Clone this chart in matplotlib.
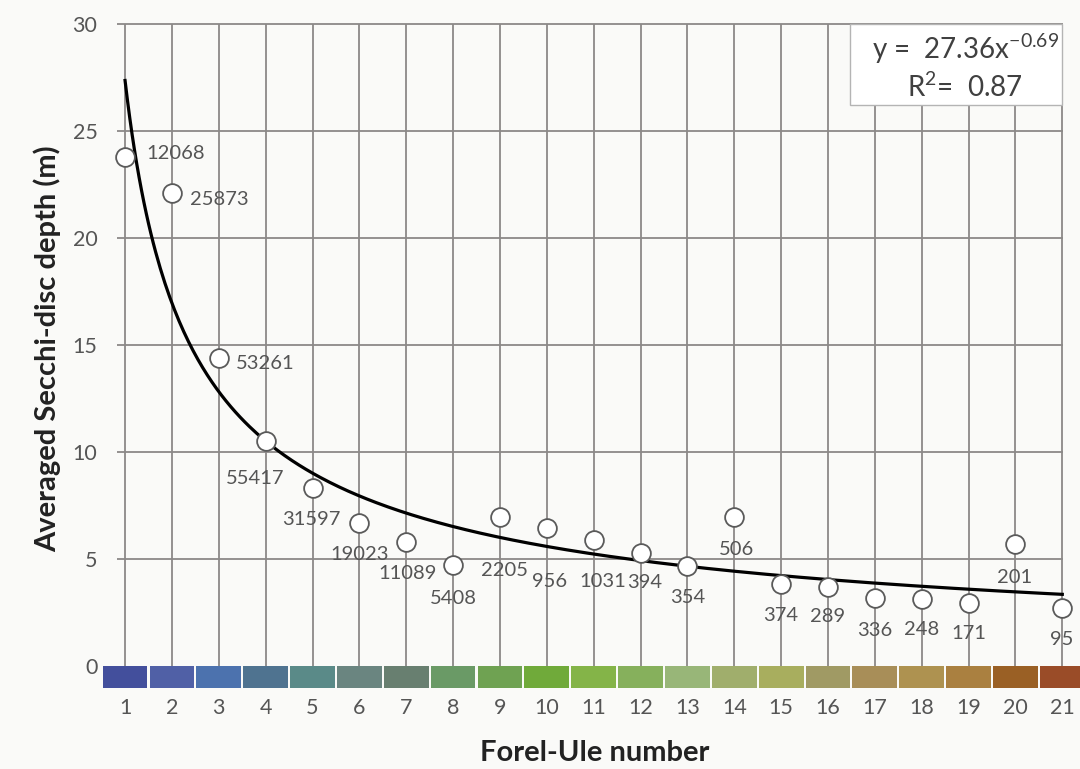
import numpy as np
import matplotlib
matplotlib.use("Agg")
import matplotlib.pyplot as plt
from matplotlib.patches import Rectangle

plt.rcParams['font.family'] = ['Lato', 'DejaVu Sans']

# ---- data ----
forel_ule = list(range(1, 22))
secchi_depth = [23.8, 22.1, 14.4, 10.5, 8.3, 6.7, 5.8, 4.7, 6.95, 6.45, 5.9,
                5.3, 4.65, 6.95, 3.85, 3.7, 3.2, 3.15, 2.95, 5.7, 2.7]
counts = ["12068", "25873", "53261", "55417", "31597", "19023", "11089", "5408",
          "2205", "956", "1031", "394", "354", "506", "374", "289", "336",
          "248", "171", "201", "95"]
fu_colors = ["#434f9c", "#5060a6", "#4c72ae", "#4f7390", "#5a8a88", "#6a8580",
             "#687f70", "#6a9a66", "#6fa252", "#70aa3a", "#84b448", "#86b05c",
             "#98b678", "#a0ae6c", "#a8ae5e", "#a09a64", "#a88e58", "#ae9250",
             "#aa8040", "#9a6025", "#9a4c28"]
yticks = [0, 5, 10, 15, 20, 25, 30]
fit_a, fit_b = 27.36, -0.69
r_squared = 0.87

# label offsets in pixels (dx, dy)
label_offsets = [(51, 3), (47, -6), (46, -6), (-11, -37), (-1, -31), (0, -32),
                 (1, -32), (0, -33), (5, -53), (3, -54), (9, -42), (4, -30),
                 (0, -31), (2, -32), (0, -32), (0, -30), (0, -33), (0, -31),
                 (0, -31), (-1, -33), (-1, -31)]

bg = '#fafaf8'
fig = plt.figure(figsize=(10.8, 7.69), dpi=100, facecolor=bg)
ax = fig.add_axes([0.0941, 0.1053, 0.906, 0.8774])
ax.set_facecolor('none')
ax.set_xlim(0.5, 21.38)
ax.set_ylim(-1.03, 30.5)

grid_c = '#8c8888'
# horizontal grid
for yv in yticks[1:]:
    ax.plot([0.83, 21.02], [yv, yv], color=grid_c, lw=1.3, zorder=1, solid_capstyle='butt')
# vertical grid
for xv in forel_ule:
    ax.plot([xv, xv], [0, 30], color=grid_c, lw=1.3, zorder=1, solid_capstyle='butt')

# color bar
ax.bar(forel_ule, [-1.03] * len(forel_ule), width=0.955, bottom=0,
       color=fu_colors, edgecolor='none', zorder=3, align='center')

# fitted curve
xf = np.linspace(1, 21, 400)
ax.plot(xf, fit_a * xf ** fit_b, color='black', lw=2.3, zorder=4)

# points
ax.plot(forel_ule, secchi_depth, linestyle='none', marker='o', ms=13.5,
        mfc='white', mec='#5a5a5a', mew=1.3, zorder=5)

for xv, yv, lab, (dx, dy) in zip(forel_ule, secchi_depth, counts, label_offsets):
    ax.annotate(lab, (xv, yv), xytext=(dx, dy), textcoords='offset pixels',
                ha='center', va='center', fontsize=14.5, color='#555555', zorder=6)

# equation box
ax.add_patch(Rectangle((16.47, 26.2), 21.0 - 16.47, 30 - 26.2, facecolor='white',
                       edgecolor='#b4b4b4', lw=1.0, zorder=2))
ax.text(18.93, 28.85, r'y =  27.36x$^{\mathregular{-0.69}}$', ha='center', va='center',
        fontsize=20, color='#404040', zorder=6)
ax.text(18.92, 27.05, 'R$^{\\mathregular{2}}$=  %.2f' % r_squared, ha='center', va='center',
        fontsize=20, color='#404040', zorder=6)

for s in ax.spines.values():
    s.set_visible(False)
ax.set_xticks(forel_ule)
ax.set_xticklabels([str(v) for v in forel_ule])
ax.set_yticks(yticks)
ax.tick_params(axis='both', length=0, labelsize=15.5, labelcolor='#555555')
ax.tick_params(axis='x', pad=7)
ax.tick_params(axis='y', pad=3)

fig.text(0.551, 0.021, 'Forel-Ule number', ha='center', va='center',
         fontsize=21, fontweight='bold', color='#222222')
fig.text(0.044, 0.546, 'Averaged Secchi-disc depth (m)', ha='center', va='center',
         rotation=90, fontsize=21, fontweight='bold', color='#222222')

fig.savefig('out.png', dpi=100, facecolor=bg)
